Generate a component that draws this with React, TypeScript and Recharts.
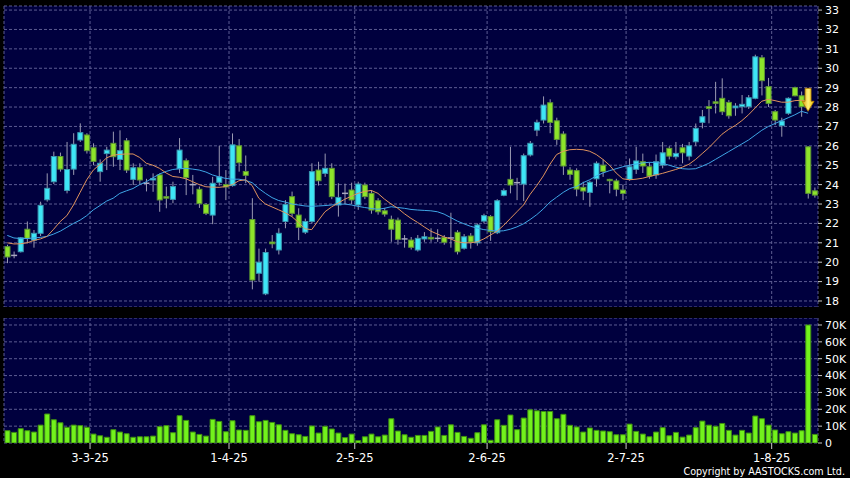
import React from "react";
import {
  Bar,
  CartesianGrid,
  ComposedChart,
  Line,
  ReferenceDot,
  XAxis,
  YAxis,
} from "recharts";

// Daily candles, 12-2-25 .. 11-8-25 (HK trading days)
const OPEN = [
  20.8, 20.35, 20.54, 21.7, 21.14, 21.49, 23.22, 24.15, 25.45, 23.7,
  24.8, 26.3, 26.56, 25.9, 24.67, 25.6, 26.13, 25.3, 26.26, 24.27,
  24.87, 24.07, 24.24, 24.5, 23.38, 23.24, 24.82, 25.23, 24.0, 23.76,
  22.98, 22.43, 24.12, 24.0, 23.95, 26.0, 24.68, 22.2, 19.43, 18.37,
  21.04, 20.63, 22.1, 23.38, 22.43, 21.55, 22.1, 24.75, 24.58, 24.84,
  22.95, 23.55, 23.72, 22.95, 23.98, 23.55, 23.17, 22.65, 22.21, 22.17,
  21.2, 21.14, 20.63, 21.2, 21.28, 21.23, 21.27, 21.25, 21.54, 20.72,
  21.35, 21.0, 22.12, 22.35, 21.52, 23.45, 24.27, 24.1, 24.03, 25.53,
  26.81, 27.33, 28.22, 27.29, 26.61, 24.75, 24.72, 23.86, 23.6, 24.3,
  25.0, 24.27, 24.19, 23.72, 24.27, 24.79, 25.18, 24.92, 24.5, 25.01,
  25.87, 25.44, 25.9, 25.47, 26.21, 27.21, 28.02, 28.27, 28.45, 28.24,
  27.96, 28.02, 28.02, 28.45, 30.54, 29.05, 27.76, 27.04, 27.68, 29.0,
  28.58, 25.95, 23.68,
];
const HIGH = [
  20.9, 20.55, 21.3, 22.1, 21.66, 23.12, 24.58, 25.7, 25.65, 26.2,
  26.65, 27.16, 26.65, 26.13, 25.3, 25.95, 26.73, 26.8, 26.4, 25.1,
  25.1, 24.3, 24.58, 24.58, 23.9, 24.15, 26.4, 25.35, 24.5, 23.9,
  23.05, 24.4, 26.0, 24.75, 26.64, 26.35, 25.5, 23.3, 20.7, 20.7,
  21.4, 21.75, 23.2, 23.64, 22.78, 22.25, 25.1, 25.18, 25.6, 25.1,
  24.07, 24.05, 24.1, 24.15, 24.1, 23.72, 23.3, 22.8, 22.4, 22.3,
  21.4, 21.3, 21.4, 21.55, 21.75, 21.7, 21.4, 22.55, 21.65, 21.45,
  21.5, 22.0, 22.5, 22.43, 23.25, 23.8, 25.95, 24.35, 25.6, 26.25,
  27.35, 28.55, 28.4, 27.45, 26.75, 24.9, 24.84, 24.15, 24.2, 25.2,
  25.3, 24.3, 24.3, 24.0, 25.35, 25.95, 25.6, 25.15, 25.55, 26.2,
  25.98, 26.2, 26.1, 26.2, 27.15, 27.85, 28.36, 29.3, 29.48, 28.36,
  28.2, 28.62, 28.62, 30.7, 30.68, 29.5, 27.85, 27.45, 28.5, 29.05,
  28.8, 25.98, 23.85,
];
const LOW = [
  19.95, 20.2, 20.5, 20.97, 20.75, 21.35, 23.12, 24.03, 24.67, 23.55,
  24.5, 26.2, 25.6, 25.0, 24.15, 24.75, 24.92, 24.75, 24.6, 23.98,
  24.0, 23.65, 23.63, 22.6, 22.78, 23.04, 24.6, 23.46, 23.5, 22.8,
  22.43, 21.96, 23.95, 23.2, 23.9, 24.67, 24.07, 18.6, 19.0, 18.3,
  20.72, 20.4, 21.75, 22.35, 21.14, 21.45, 22.0, 23.95, 24.4, 23.25,
  22.35, 23.0, 23.0, 22.7, 23.25, 22.5, 22.45, 22.35, 21.05, 20.9,
  20.75, 20.65, 20.55, 21.05, 21.05, 21.05, 20.9, 20.75, 20.4, 20.65,
  20.7, 20.85, 22.0, 21.1, 21.45, 23.4, 23.55, 23.2, 23.15, 25.45,
  26.5, 27.15, 26.65, 26.05, 24.5, 24.25, 23.4, 23.2, 22.86, 23.9,
  24.4, 23.55, 23.4, 23.2, 24.2, 24.55, 24.6, 24.3, 24.3, 24.84,
  25.3, 25.3, 25.1, 25.25, 26.0, 26.9, 27.16, 27.67, 27.59, 27.4,
  27.55, 27.67, 27.9, 28.4, 28.6, 28.0, 27.07, 26.47, 27.6, 28.55,
  27.5, 23.28, 23.33,
];
const CLOSE = [
  20.27, 20.35, 21.26, 21.23, 21.49, 22.93, 23.81, 25.45, 24.8, 24.78,
  26.08, 26.68, 25.75, 25.2, 25.1, 25.78, 25.44, 25.75, 24.75, 24.87,
  24.24, 24.07, 24.32, 23.21, 23.3, 23.9, 25.78, 24.37, 24.0, 23.02,
  22.52, 24.07, 24.4, 23.88, 26.05, 25.13, 24.48, 19.08, 20.0, 20.5,
  20.95, 21.49, 22.97, 22.52, 21.8, 22.1, 24.67, 24.2, 24.84, 23.38,
  23.34, 23.55, 23.21, 24.03, 23.38, 22.69, 22.6, 22.48, 21.7, 21.18,
  21.2, 20.77, 21.23, 21.31, 21.2, 21.23, 21.03, 21.25, 20.54, 21.31,
  21.04, 21.92, 22.4, 21.57, 23.17, 23.69, 23.98, 24.1, 25.49, 26.13,
  27.21, 28.1, 27.21, 26.33, 24.96, 24.53, 23.77, 23.67, 24.12, 25.1,
  24.68, 24.2, 23.76, 23.55, 24.92, 25.22, 24.96, 24.44, 25.18, 25.64,
  25.47, 25.61, 25.64, 26.0, 26.9, 27.5, 27.93, 28.19, 27.76, 27.55,
  28.05, 28.14, 28.48, 30.59, 29.36, 28.19, 27.33, 27.28, 28.45, 28.58,
  28.02, 23.55, 23.46,
];
// volume in thousands
const VOLUME_K = [
  7.3, 6.3, 8.5, 7.3, 6.5, 10.6, 17.2, 13.8, 12.0, 9.3,
  10.6, 10.3, 9.3, 5.3, 4.3, 3.4, 7.9, 6.5, 5.5, 3.4,
  3.7, 3.7, 4.1, 9.7, 10.3, 6.1, 16.2, 13.4, 6.5, 5.1,
  4.1, 14.0, 12.8, 6.7, 13.2, 7.7, 7.5, 16.2, 12.6, 13.4,
  12.2, 10.8, 7.5, 5.5, 4.9, 3.9, 10.1, 5.9, 9.9, 8.3,
  5.9, 3.2, 5.3, 1.4, 3.7, 5.3, 3.7, 4.7, 14.4, 7.1,
  4.9, 3.4, 4.5, 4.5, 6.9, 9.5, 4.5, 10.8, 6.3, 3.9,
  2.8, 6.1, 10.8, 1.6, 13.8, 10.5, 16.6, 7.9, 14.8, 19.7,
  19.1, 18.7, 18.7, 14.4, 17.0, 10.5, 9.5, 6.5, 8.9, 7.5,
  7.1, 6.7, 4.9, 4.9, 11.2, 6.9, 5.3, 3.7, 6.5, 9.1,
  4.3, 6.3, 3.5, 4.7, 9.1, 13.0, 10.6, 9.9, 11.6, 7.5,
  4.7, 7.5, 5.9, 16.0, 14.4, 10.6, 7.7, 5.5, 6.7, 5.9,
  7.3, 70.0, 5.1,
];
// moving averages as drawn (orange short, blue long)
const MA_SHORT = [
  21.0, 20.94, 20.95, 21.0, 21.12, 21.2, 21.33, 21.7, 22.1, 22.4,
  22.95, 23.6, 24.25, 24.75, 25.05, 25.38, 25.52, 25.56, 25.58, 25.58,
  25.4, 25.1, 25.0, 24.84, 24.6, 24.42, 24.38, 24.3, 24.15, 24.0,
  23.89, 23.87, 23.86, 23.9, 24.0, 24.2, 24.25, 23.95, 23.3, 23.0,
  22.85, 22.7, 22.55, 22.35, 22.05, 21.72, 21.68, 22.15, 22.6, 22.85,
  23.05, 23.25, 23.4, 23.55, 23.65, 23.7, 23.55, 23.25, 23.0, 22.78,
  22.5, 22.26, 22.05, 21.82, 21.6, 21.45, 21.3, 21.2, 21.05, 21.0,
  21.0, 21.05, 21.2, 21.4, 21.6, 21.9, 22.25, 22.6, 22.95, 23.5,
  23.95, 24.45, 25.05, 25.55, 25.72, 25.8, 25.82, 25.8, 25.72, 25.55,
  25.3, 25.0, 24.6, 24.3, 24.25, 24.28, 24.33, 24.42, 24.5, 24.58,
  24.68, 24.78, 24.9, 25.05, 25.3, 25.6, 25.9, 26.25, 26.6, 26.85,
  27.05, 27.3, 27.6, 27.95, 28.3, 28.4, 28.33, 28.25, 28.25, 28.33,
  28.35, 28.3, null,
];
const MA_LONG = [
  21.38, 21.25, 21.22, 21.22, 21.25, 21.28, 21.33, 21.45, 21.6, 21.8,
  22.0, 22.17, 22.4, 22.7, 22.92, 23.15, 23.3, 23.55, 23.68, 23.8,
  24.0, 24.15, 24.35, 24.55, 24.68, 24.78, 24.82, 24.84, 24.8, 24.75,
  24.65, 24.5, 24.4, 24.32, 24.28, 24.28, 24.22, 24.1, 23.8, 23.55,
  23.33, 23.18, 23.1, 23.0, 22.95, 22.9, 22.88, 22.9, 22.92, 22.95,
  22.98, 23.0, 22.95, 22.88, 22.82, 22.77, 22.73, 22.78, 22.86, 22.82,
  22.78, 22.72, 22.69, 22.67, 22.65, 22.6, 22.48, 22.3, 22.12, 21.98,
  21.85, 21.76, 21.68, 21.64, 21.6, 21.62, 21.7, 21.82, 21.98, 22.2,
  22.45, 22.75, 23.1, 23.35, 23.6, 23.8, 23.9, 24.1, 24.25, 24.45,
  24.6, 24.72, 24.82, 24.92, 25.0, 25.06, 25.12, 25.15, 25.14, 25.1,
  25.0, 24.9, 24.82, 24.8, 24.82, 24.95, 25.1, 25.3, 25.5, 25.7,
  25.9, 26.1, 26.3, 26.55, 26.8, 27.0, 27.15, 27.3, 27.45, 27.6,
  27.78, 27.68, null,
];

// ticks sit on the left edge of the dated bar
const TICK_POS = [13, 34, 53, 73, 94, 116];
const TICK_LABELS = ["3-3-25", "1-4-25", "2-5-25", "2-6-25", "2-7-25", "1-8-25"];
const PRICE_TICKS = [18, 19, 20, 21, 22, 23, 24, 25, 26, 27, 28, 29, 30, 31, 32, 33];
const VOL_TICKS = [0, 10, 20, 30, 40, 50, 60, 70];

const BG = "#00003e";
const GRID = "#5c5c92";
const UP_FILL = "#3ee6f6";
const UP_EDGE = "#3a98b2";
const DOWN_FILL = "#8de42a";
const DOWN_EDGE = "#5d9634";
const WICK = "#9a9ab2";
const FONT = "DejaVu Sans";

const rows = OPEN.map((open, i) => ({
  x: i + 0.5,
  open,
  high: HIGH[i],
  low: LOW[i],
  close: CLOSE[i],
  range: [LOW[i], HIGH[i]],
  vol: VOLUME_K[i],
  maS: MA_SHORT[i],
  maL: MA_LONG[i],
}));

const Candle = (props: any) => {
  const { x, y, width, height, payload } = props;
  if (x == null || y == null || !payload) return null;
  const { open, close, high, low } = payload;
  const top = Math.min(y, y + height);
  const h = Math.abs(height);
  const k = high > low ? h / (high - low) : 0;
  const yOf = (v: number) => top + (high - v) * k;
  const cx = x + width / 2;
  const yo = yOf(open);
  const yc = yOf(close);
  const doji = Math.abs(close - open) < 0.005;
  const up = close > open;
  return (
    <g>
      <line x1={cx} x2={cx} y1={top} y2={top + h} stroke={WICK} strokeWidth={1} />
      {doji ? (
        <line x1={x - 0.5} x2={x + width + 0.5} y1={yo} y2={yo} stroke="#a8a8c0" strokeWidth={1.5} />
      ) : (
        <rect
          x={x}
          y={Math.min(yo, yc)}
          width={width}
          height={Math.max(Math.abs(yc - yo), 1)}
          fill={up ? UP_FILL : DOWN_FILL}
          stroke={up ? UP_EDGE : DOWN_EDGE}
          strokeWidth={1}
        />
      )}
    </g>
  );
};

const Arrow = (props: any) => {
  const { cx, cy } = props;
  if (cx == null || cy == null) return null;
  const d = `M${cx - 3},${cy - 11} H${cx + 3} V${cy + 2} H${cx + 6} L${cx},${cy + 12} L${cx - 6},${cy + 2} H${cx - 3} Z`;
  return (
    <g>
      <defs>
        <linearGradient id="arrowFill" x1="0" y1="0" x2="1" y2="0">
          <stop offset="0%" stopColor="#d89400" />
          <stop offset="50%" stopColor="#fff27a" />
          <stop offset="100%" stopColor="#f2c200" />
        </linearGradient>
      </defs>
      <path d={d} fill="url(#arrowFill)" stroke="#b07800" strokeWidth={0.8} />
    </g>
  );
};

const tickStyle = { fill: "#ffffff", fontSize: 11, fontFamily: FONT };

export default function App() {
  return (
    <div
      style={{
        position: "absolute",
        left: 0,
        top: 0,
        width: 850,
        height: 478,
        background: "#000",
        fontFamily: FONT,
      }}
    >
      <div style={{ position: "absolute", left: 0, top: 0 }}>
        <ComposedChart
          width={850}
          height={307}
          data={rows}
          margin={{ top: 6, right: 2, bottom: 0, left: 4 }}
        >
          <CartesianGrid stroke={GRID} strokeDasharray="3 2" fill={BG} fillOpacity={1} />
          <XAxis
            type="number"
            dataKey="x"
            domain={[0, 123]}
            ticks={TICK_POS}
            allowDataOverflow
            hide
          />
          <YAxis
            orientation="right"
            type="number"
            domain={[17.69, 33.21]}
            ticks={PRICE_TICKS}
            interval={0}
            allowDataOverflow
            width={30}
            axisLine={false}
            tickLine={{ stroke: "#c8c8c8" }}
            tickSize={4}
            tickMargin={3}
            tick={tickStyle}
          />
          <Bar dataKey="range" barSize={5} shape={(p: any) => <Candle {...p} />} isAnimationActive={false} />
          <Line
            type="linear"
            dataKey="maL"
            stroke="#3fa6e6"
            strokeWidth={1}
            dot={false}
            activeDot={false}
            isAnimationActive={false}
          />
          <Line
            type="linear"
            dataKey="maS"
            stroke="#e0935e"
            strokeWidth={1}
            dot={false}
            activeDot={false}
            isAnimationActive={false}
          />
          <ReferenceDot x={121.5} y={28.4} ifOverflow="visible" shape={(p: any) => <Arrow {...p} />} />
        </ComposedChart>
      </div>
      <div style={{ position: "absolute", left: 0, top: 318 }}>
        <ComposedChart
          width={850}
          height={160}
          data={rows}
          margin={{ top: 0, right: 2, bottom: 0, left: 4 }}
        >
          <CartesianGrid stroke={GRID} strokeDasharray="3 2" fill={BG} fillOpacity={1} />
          <XAxis
            type="number"
            dataKey="x"
            domain={[0, 123]}
            ticks={TICK_POS}
            interval={0}
            allowDataOverflow
            height={35}
            axisLine={false}
            tickLine={{ stroke: "#c8c8c8" }}
            tickSize={6}
            tickMargin={5}
            tick={{ ...tickStyle, fontSize: 11.5 }}
            tickFormatter={(v: number) => TICK_LABELS[TICK_POS.indexOf(v)] ?? ""}
          />
          <YAxis
            orientation="right"
            type="number"
            domain={[0, 74.15]}
            ticks={VOL_TICKS}
            interval={0}
            allowDataOverflow
            width={30}
            axisLine={false}
            tickLine={{ stroke: "#c8c8c8" }}
            tickSize={4}
            tickMargin={3}
            tick={tickStyle}
            tickFormatter={(v: number) => (v === 0 ? "0" : `${v}K`)}
          />
          <Bar
            dataKey="vol"
            barSize={5}
            fill="#72f21c"
            stroke="#3f8e12"
            strokeWidth={1}
            isAnimationActive={false}
          />
        </ComposedChart>
      </div>
      <svg
        width={850}
        height={478}
        style={{ position: "absolute", left: 0, top: 0, pointerEvents: "none" }}
      >
        <text x={845} y={474.5} textAnchor="end" fill="#ffffff" fontSize={9.6} fontFamily={FONT}>
          Copyright by AASTOCKS.com Ltd.
        </text>
      </svg>
    </div>
  );
}
